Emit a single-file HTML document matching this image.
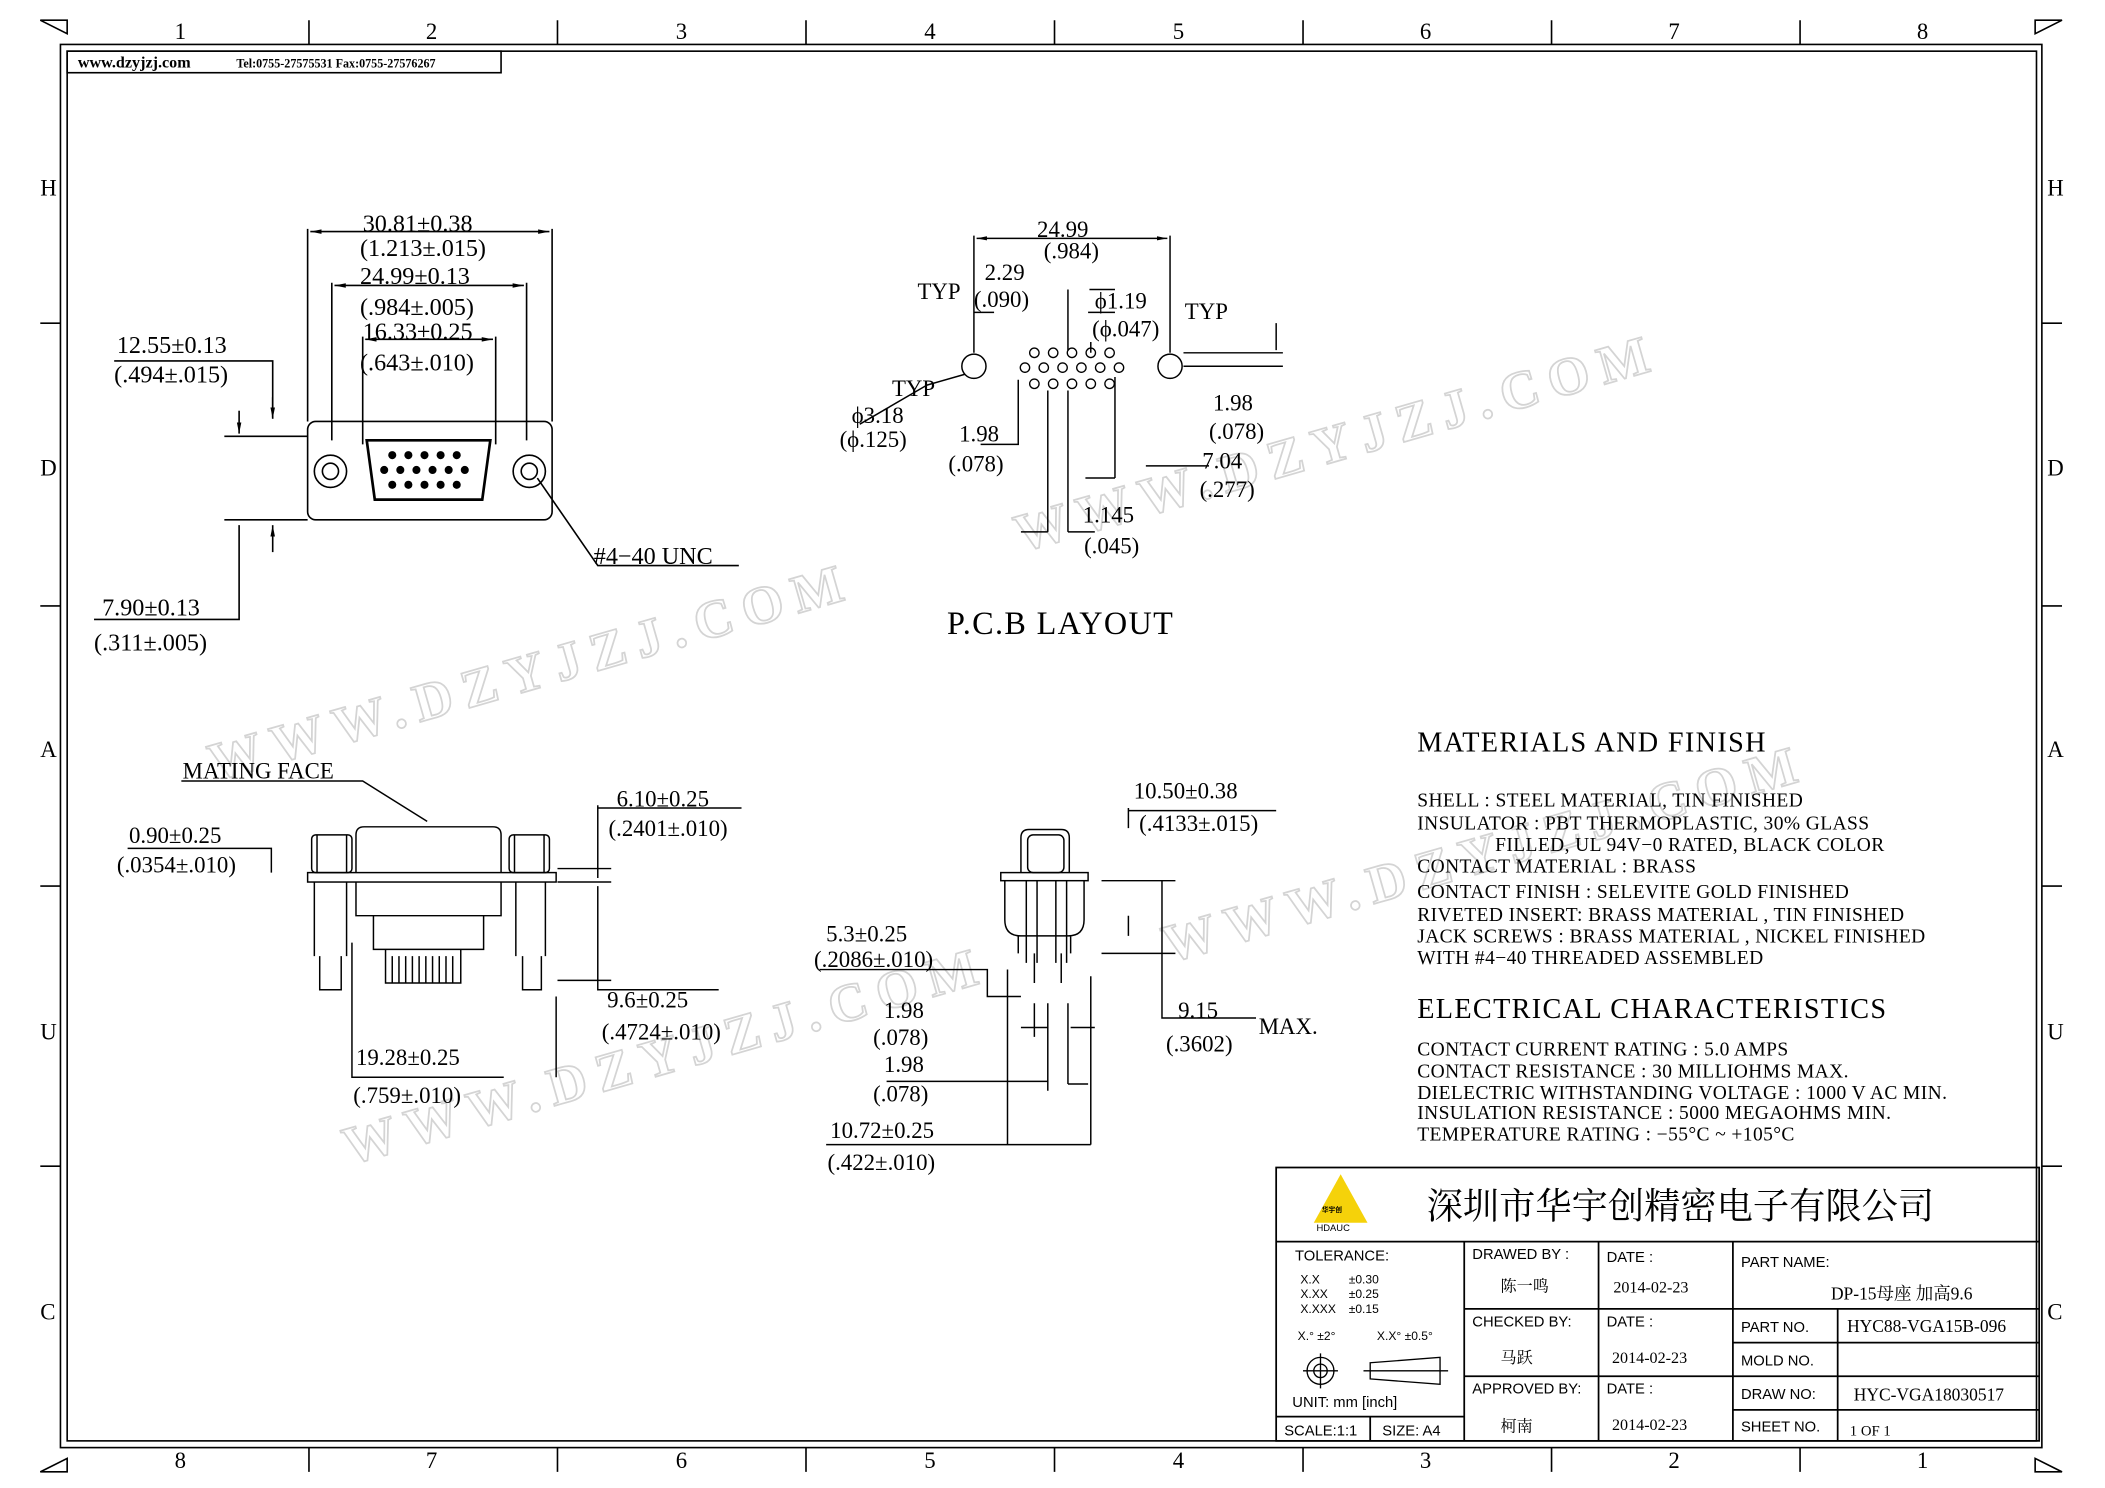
<!DOCTYPE html>
<html><head><meta charset="utf-8"><style>
html,body{margin:0;padding:0;background:#fff}
svg{display:block}
text{font-family:"Liberation Serif","Noto Serif CJK SC",serif;fill:#000}
.s{font-family:"Liberation Sans","Noto Sans CJK SC",sans-serif}
</style></head><body>
<svg width="2105" height="1488" viewBox="0 0 1567 1105" preserveAspectRatio="none" xmlns="http://www.w3.org/2000/svg">
<defs>
<marker id="a" viewBox="0 0 10 10" refX="10" refY="5" markerWidth="7" markerHeight="7" orient="auto-start-reverse"><path d="M0,3L10,5L0,7z" fill="#000"/></marker>
</defs>
<g font-size="40" font-family="Liberation Sans" font-weight="bold" letter-spacing="8">
<text x="0" y="0" transform="translate(760,410) rotate(-16)" style="fill:#fff;stroke:#d4d4d4;stroke-width:1.3">WWW.DZYJZJ.COM</text>
<text x="0" y="0" transform="translate(160,580) rotate(-16)" style="fill:#fff;stroke:#d4d4d4;stroke-width:1.3">WWW.DZYJZJ.COM</text>
<text x="0" y="0" transform="translate(870,715) rotate(-16)" style="fill:#fff;stroke:#d4d4d4;stroke-width:1.3">WWW.DZYJZJ.COM</text>
<text x="0" y="0" transform="translate(260,865) rotate(-16)" style="fill:#fff;stroke:#d4d4d4;stroke-width:1.3">WWW.DZYJZJ.COM</text>
</g>
<g fill="none" stroke="#000" stroke-width="1.2">
<rect x="45" y="33" width="1475" height="1042"/>
<rect x="50" y="38" width="1466" height="1032"/>
<path d="M230,15V33M415,15V33M600,15V33M785,15V33M970,15V33M1155,15V33M1340,15V33
M230,1075V1093M415,1075V1093M600,1075V1093M785,1075V1093M970,1075V1093M1155,1075V1093M1340,1075V1093
M30,240H45M30,450H45M30,658H45M30,866H45M1520,240H1535M1520,450H1535M1520,658H1535M1520,866H1535"/>
<path d="M30,15L50,25L50,15z M1535,15L1515,25L1515,15z M30,1093L50,1083L50,1093z M1535,1093L1515,1083L1515,1093z" fill="#fff"/>
<rect x="50" y="38" width="323" height="16"/>
</g>
<g font-size="17">
<text x="130" y="29">1</text><text x="317" y="29">2</text><text x="503" y="29">3</text><text x="688" y="29">4</text><text x="873" y="29">5</text><text x="1057" y="29">6</text><text x="1242" y="29">7</text><text x="1427" y="29">8</text>
<text x="130" y="1090">8</text><text x="317" y="1090">7</text><text x="503" y="1090">6</text><text x="688" y="1090">5</text><text x="873" y="1090">4</text><text x="1057" y="1090">3</text><text x="1242" y="1090">2</text><text x="1427" y="1090">1</text>
<text x="30" y="145">H</text><text x="30" y="353">D</text><text x="30" y="562">A</text><text x="30" y="772">U</text><text x="30" y="980">C</text>
<text x="1524" y="145">H</text><text x="1524" y="353">D</text><text x="1524" y="562">A</text><text x="1524" y="772">U</text><text x="1524" y="980">C</text>
</g>
<text x="58" y="50" font-size="12" font-weight="bold">www.dzyjzj.com</text>
<text x="176" y="50" font-size="9" font-weight="bold">Tel:0755-27575531  Fax:0755-27576267</text>

<g fill="none" stroke="#000" stroke-width="1.2">
<rect x="229" y="313" width="182" height="73" rx="6"/>
<path d="M273,327h92l-6,44h-80z" stroke-width="2"/>
<circle cx="246" cy="350" r="12"/><circle cx="246" cy="350" r="6"/>
<circle cx="394" cy="350" r="12"/><circle cx="394" cy="350" r="6"/>
<path d="M229,170V313M411,170V313M247,210V327M392,210V327M270,250V330M369,250V330"/>
<path d="M231,172H409" marker-start="url(#a)" marker-end="url(#a)"/>
<path d="M249,212H390" marker-start="url(#a)" marker-end="url(#a)"/>
<path d="M272,252H367" marker-start="url(#a)" marker-end="url(#a)"/>
<path d="M85,268H203V310"/><path d="M203,295V311" marker-end="url(#a)"/>
<path d="M167,324H229M167,386H229"/><path d="M178,305V322" marker-end="url(#a)"/>
<path d="M178,390V460H70"/><path d="M203,410V390" marker-end="url(#a)"/>
<path d="M400,355L445,420H550"/>
</g>
<g fill="#000"><circle cx="292" cy="338" r="3"/><circle cx="304" cy="338" r="3"/><circle cx="316" cy="338" r="3"/><circle cx="328" cy="338" r="3"/><circle cx="340" cy="338" r="3"/><circle cx="286" cy="349" r="3"/><circle cx="298" cy="349" r="3"/><circle cx="310" cy="349" r="3"/><circle cx="322" cy="349" r="3"/><circle cx="334" cy="349" r="3"/><circle cx="346" cy="349" r="3"/><circle cx="292" cy="360" r="3"/><circle cx="304" cy="360" r="3"/><circle cx="316" cy="360" r="3"/><circle cx="328" cy="360" r="3"/><circle cx="340" cy="360" r="3"/></g>
<g font-size="18">
<text x="270" y="172">30.81±0.38</text><text x="268" y="190">(1.213±.015)</text>
<text x="268" y="211">24.99±0.13</text><text x="268" y="234">(.984±.005)</text>
<text x="270" y="252">16.33±0.25</text><text x="268" y="275">(.643±.010)</text>
<text x="87" y="262">12.55±0.13</text><text x="85" y="284">(.494±.015)</text>
<text x="76" y="457">7.90±0.13</text><text x="70" y="483">(.311±.005)</text>
<text x="442" y="419">#4−40  UNC</text>
</g>

<g fill="none" stroke="#000" stroke-width="1.1">
<circle cx="725" cy="272" r="9"/><circle cx="871" cy="272" r="9"/>
<path d="M725,175V262M871,175V262"/>
<path d="M727,177H869" marker-start="url(#a)" marker-end="url(#a)"/>
<path d="M725,232H740M795,215V260M810,232H830M811,215H830M812,254V262"/>
<path d="M690,286L718,278M690,286L640,315"/>
<path d="M881,272H955M881,262H955M950,240V260"/>
<path d="M830,280V355M808,355H830M853,346H900M758,282V330H730"/>
<path d="M780,290V395M795,290V395M760,395H780M815,395H795"/>
</g>
<g fill="none" stroke="#000" stroke-width="1">
<circle cx="770" cy="262" r="3.5"/><circle cx="784" cy="262" r="3.5"/><circle cx="798" cy="262" r="3.5"/><circle cx="812" cy="262" r="3.5"/><circle cx="826" cy="262" r="3.5"/>
<circle cx="763" cy="273" r="3.5"/><circle cx="777" cy="273" r="3.5"/><circle cx="791" cy="273" r="3.5"/><circle cx="805" cy="273" r="3.5"/><circle cx="819" cy="273" r="3.5"/><circle cx="833" cy="273" r="3.5"/>
<circle cx="770" cy="285" r="3.5"/><circle cx="784" cy="285" r="3.5"/><circle cx="798" cy="285" r="3.5"/><circle cx="812" cy="285" r="3.5"/><circle cx="826" cy="285" r="3.5"/>
</g>
<g font-size="17">
<text x="772" y="176">24.99</text><text x="777" y="192">(.984)</text>
<text x="683" y="222">TYP</text><text x="733" y="208">2.29</text><text x="725" y="228">(.090)</text>
<text x="815" y="229">ϕ1.19</text><text x="813" y="250">(ϕ.047)</text><text x="882" y="237">TYP</text>
<text x="664" y="294">TYP</text><text x="634" y="314">ϕ3.18</text><text x="625" y="332">(ϕ.125)</text>
<text x="714" y="328">1.98</text><text x="706" y="350">(.078)</text>
<text x="903" y="305">1.98</text><text x="900" y="326">(.078)</text>
<text x="895" y="348">7.04</text><text x="893" y="369">(.277)</text>
<text x="806" y="388">1.145</text><text x="807" y="411">(.045)</text>
</g>
<text x="705" y="471" font-size="24" letter-spacing="1">P.C.B  LAYOUT</text>

<g fill="none" stroke="#000" stroke-width="1.1">
<rect x="229" y="648" width="185" height="7"/>
<path d="M265,648V620q0,-6 6,-6h96q6,0 6,6V648"/>
<rect x="232" y="620" width="30" height="28" rx="3"/><rect x="379" y="620" width="30" height="28" rx="3"/>
<path d="M236,620V648M258,620V648M383,620V648M405,620V648"/>
<path d="M234,655V710M258,655V710M384,655V710M406,655V710M238,710V735h16V710M389,710V735h14V710"/>
<path d="M265,655V680h108V655M278,680V705h82V680M287,705V730h56V705"/>
<path d="M292,710V730M297,710V730M302,710V730M307,710V730M312,710V730M317,710V730M322,710V730M327,710V730M332,710V730M337,710V730"/>
<path d="M135,580H270L318,610"/>
<path d="M95,630H202V648"/>
<path d="M445,598V625M445,600H552M415,645H455M415,655H455M445,652V625M445,658V735H535M415,728H455"/>
<path d="M262,700V800H375M414,740V800"/>
</g>
<g font-size="17">
<text x="136" y="578">MATING  FACE</text>
<text x="96" y="626">0.90±0.25</text><text x="87" y="648">(.0354±.010)</text>
<text x="459" y="599">6.10±0.25</text><text x="453" y="621">(.2401±.010)</text>
<text x="452" y="748">9.6±0.25</text><text x="448" y="772">(.4724±.010)</text>
<text x="265" y="791">19.28±0.25</text><text x="263" y="819">(.759±.010)</text>
</g>

<g fill="none" stroke="#000" stroke-width="1.1">
<rect x="745" y="648" width="65" height="6"/>
<path d="M760,648V622q0,-6 6,-6h24q6,0 6,6V648"/><rect x="765" y="620" width="27" height="28" rx="4"/>
<path d="M748,654V683q0,12 12,12h35q12,0 12,-12V654M758,695V708M797,695V708M764,654V715M772,654V715M786,654V715M794,654V715M770,708V730M790,708V730"/>
<path d="M840,600V615M840,602H950M820,654H875M820,708H875M865,654V708M865,708V756H935M840,695V680"/>
<path d="M610,720H735V740H760M735,740V720M760,763H780M797,763H815M770,745V770M780,745V810M795,745V805M810,805H795M660,803H780"/>
<path d="M750,720V850M812,725V850M615,850H812"/>
</g>
<g font-size="17">
<text x="844" y="593">10.50±0.38</text><text x="848" y="617">(.4133±.015)</text>
<text x="615" y="699">5.3±0.25</text><text x="606" y="718">(.2086±.010)</text>
<text x="658" y="756">1.98</text><text x="650" y="776">(.078)</text>
<text x="658" y="796">1.98</text><text x="650" y="818">(.078)</text>
<text x="618" y="845">10.72±0.25</text><text x="616" y="869">(.422±.010)</text>
<text x="877" y="756">9.15</text><text x="868" y="781">(.3602)</text><text x="937" y="768">MAX.</text>
</g>

<text x="1055" y="558" font-size="21" letter-spacing="1">MATERIALS  AND  FINISH</text>
<g font-size="14.5" letter-spacing="0.3">
<text x="1055" y="599">SHELL : STEEL MATERIAL, TIN FINISHED</text>
<text x="1055" y="616">INSULATOR : PBT THERMOPLASTIC, 30% GLASS</text>
<text x="1113" y="632">FILLED, UL 94V−0 RATED, BLACK COLOR</text>
<text x="1055" y="648">CONTACT MATERIAL : BRASS</text>
<text x="1055" y="667">CONTACT FINISH : SELEVITE GOLD FINISHED</text>
<text x="1055" y="684">RIVETED INSERT:  BRASS MATERIAL , TIN FINISHED</text>
<text x="1055" y="700">JACK SCREWS : BRASS MATERIAL , NICKEL FINISHED</text>
<text x="1055" y="716">WITH #4−40 THREADED ASSEMBLED</text>
</g>
<text x="1055" y="756" font-size="21" letter-spacing="1">ELECTRICAL  CHARACTERISTICS</text>
<g font-size="14.5" letter-spacing="0.3">
<text x="1055" y="784">CONTACT CURRENT RATING : 5.0 AMPS</text>
<text x="1055" y="800">CONTACT RESISTANCE : 30 MILLIOHMS MAX.</text>
<text x="1055" y="816">DIELECTRIC WITHSTANDING VOLTAGE : 1000 V AC MIN.</text>
<text x="1055" y="831">INSULATION RESISTANCE : 5000 MEGAOHMS MIN.</text>
<text x="1055" y="847">TEMPERATURE RATING : −55°C ~ +105°C</text>
</g>

<g fill="none" stroke="#000" stroke-width="1.3">
<rect x="950" y="867" width="568" height="203"/>
<path d="M950,922H1518M1090,922V1070M1190,922V1070M1290,922V1070M1090,972H1290M1090,1022H1290M1368,972V1070M1290,972H1518M1290,997H1518M1290,1022H1518M1290,1047H1518M950,1052H1090M1020,1052V1070"/>
</g>
<path d="M978,908L998,872L1018,908z" fill="#f5d20a"/>
<text x="984" y="900" font-size="5" class="s" font-weight="bold">华宇创</text>
<text x="980" y="914" font-size="7" class="s">HDAUC</text>
<text x="1062" y="905" font-size="27">深圳市华宇创精密电子有限公司</text>
<g font-size="11">
<text x="964" y="936" class="s">TOLERANCE:</text>
<text x="968" y="953" class="s" font-size="9">X.X</text><text x="1004" y="953" class="s" font-size="9">±0.30</text>
<text x="968" y="964" class="s" font-size="9">X.XX</text><text x="1004" y="964" class="s" font-size="9">±0.25</text>
<text x="968" y="975" class="s" font-size="9">X.XXX</text><text x="1004" y="975" class="s" font-size="9">±0.15</text>
<text x="966" y="995" class="s" font-size="9">X.° ±2°</text><text x="1025" y="995" class="s" font-size="9">X.X° ±0.5°</text>
<text x="962" y="1045" class="s">UNIT:  mm  [inch]</text>
<text x="956" y="1066" class="s">SCALE:1:1</text><text x="1029" y="1066" class="s">SIZE:  A4</text>
<text x="1096" y="935" class="s">DRAWED  BY :</text><text x="1196" y="937" class="s">DATE :</text>
<text x="1096" y="985" class="s">CHECKED  BY:</text><text x="1196" y="985" class="s">DATE :</text>
<text x="1096" y="1035" class="s">APPROVED  BY:</text><text x="1196" y="1035" class="s">DATE :</text>
<text x="1296" y="941" class="s">PART  NAME:</text>
<text x="1296" y="989" class="s">PART  NO.</text><text x="1296" y="1014" class="s">MOLD  NO.</text>
<text x="1296" y="1039" class="s">DRAW  NO:</text><text x="1296" y="1063" class="s">SHEET  NO.</text>
</g>
<g fill="none" stroke="#000" stroke-width="1"><circle cx="983" cy="1018" r="10"/><circle cx="983" cy="1018" r="5"/><path d="M970,1018H996M983,1005V1031M1020,1012L1072,1008V1028L1020,1024zM1015,1018H1078"/></g>
<g font-size="12">
<text x="1117" y="959">陈一鸣</text><text x="1201" y="960">2014-02-23</text>
<text x="1117" y="1012">马跃</text><text x="1200" y="1012">2014-02-23</text>
<text x="1117" y="1063">柯南</text><text x="1200" y="1062">2014-02-23</text>
<text x="1363" y="965" font-size="13">DP-15母座  加高9.6</text>
<text x="1375" y="989" font-size="13">HYC88-VGA15B-096</text>
<text x="1380" y="1040" font-size="13">HYC-VGA18030517</text>
<text x="1377" y="1066" font-size="11">1 OF 1</text>
</g>
</svg>
</body></html>
